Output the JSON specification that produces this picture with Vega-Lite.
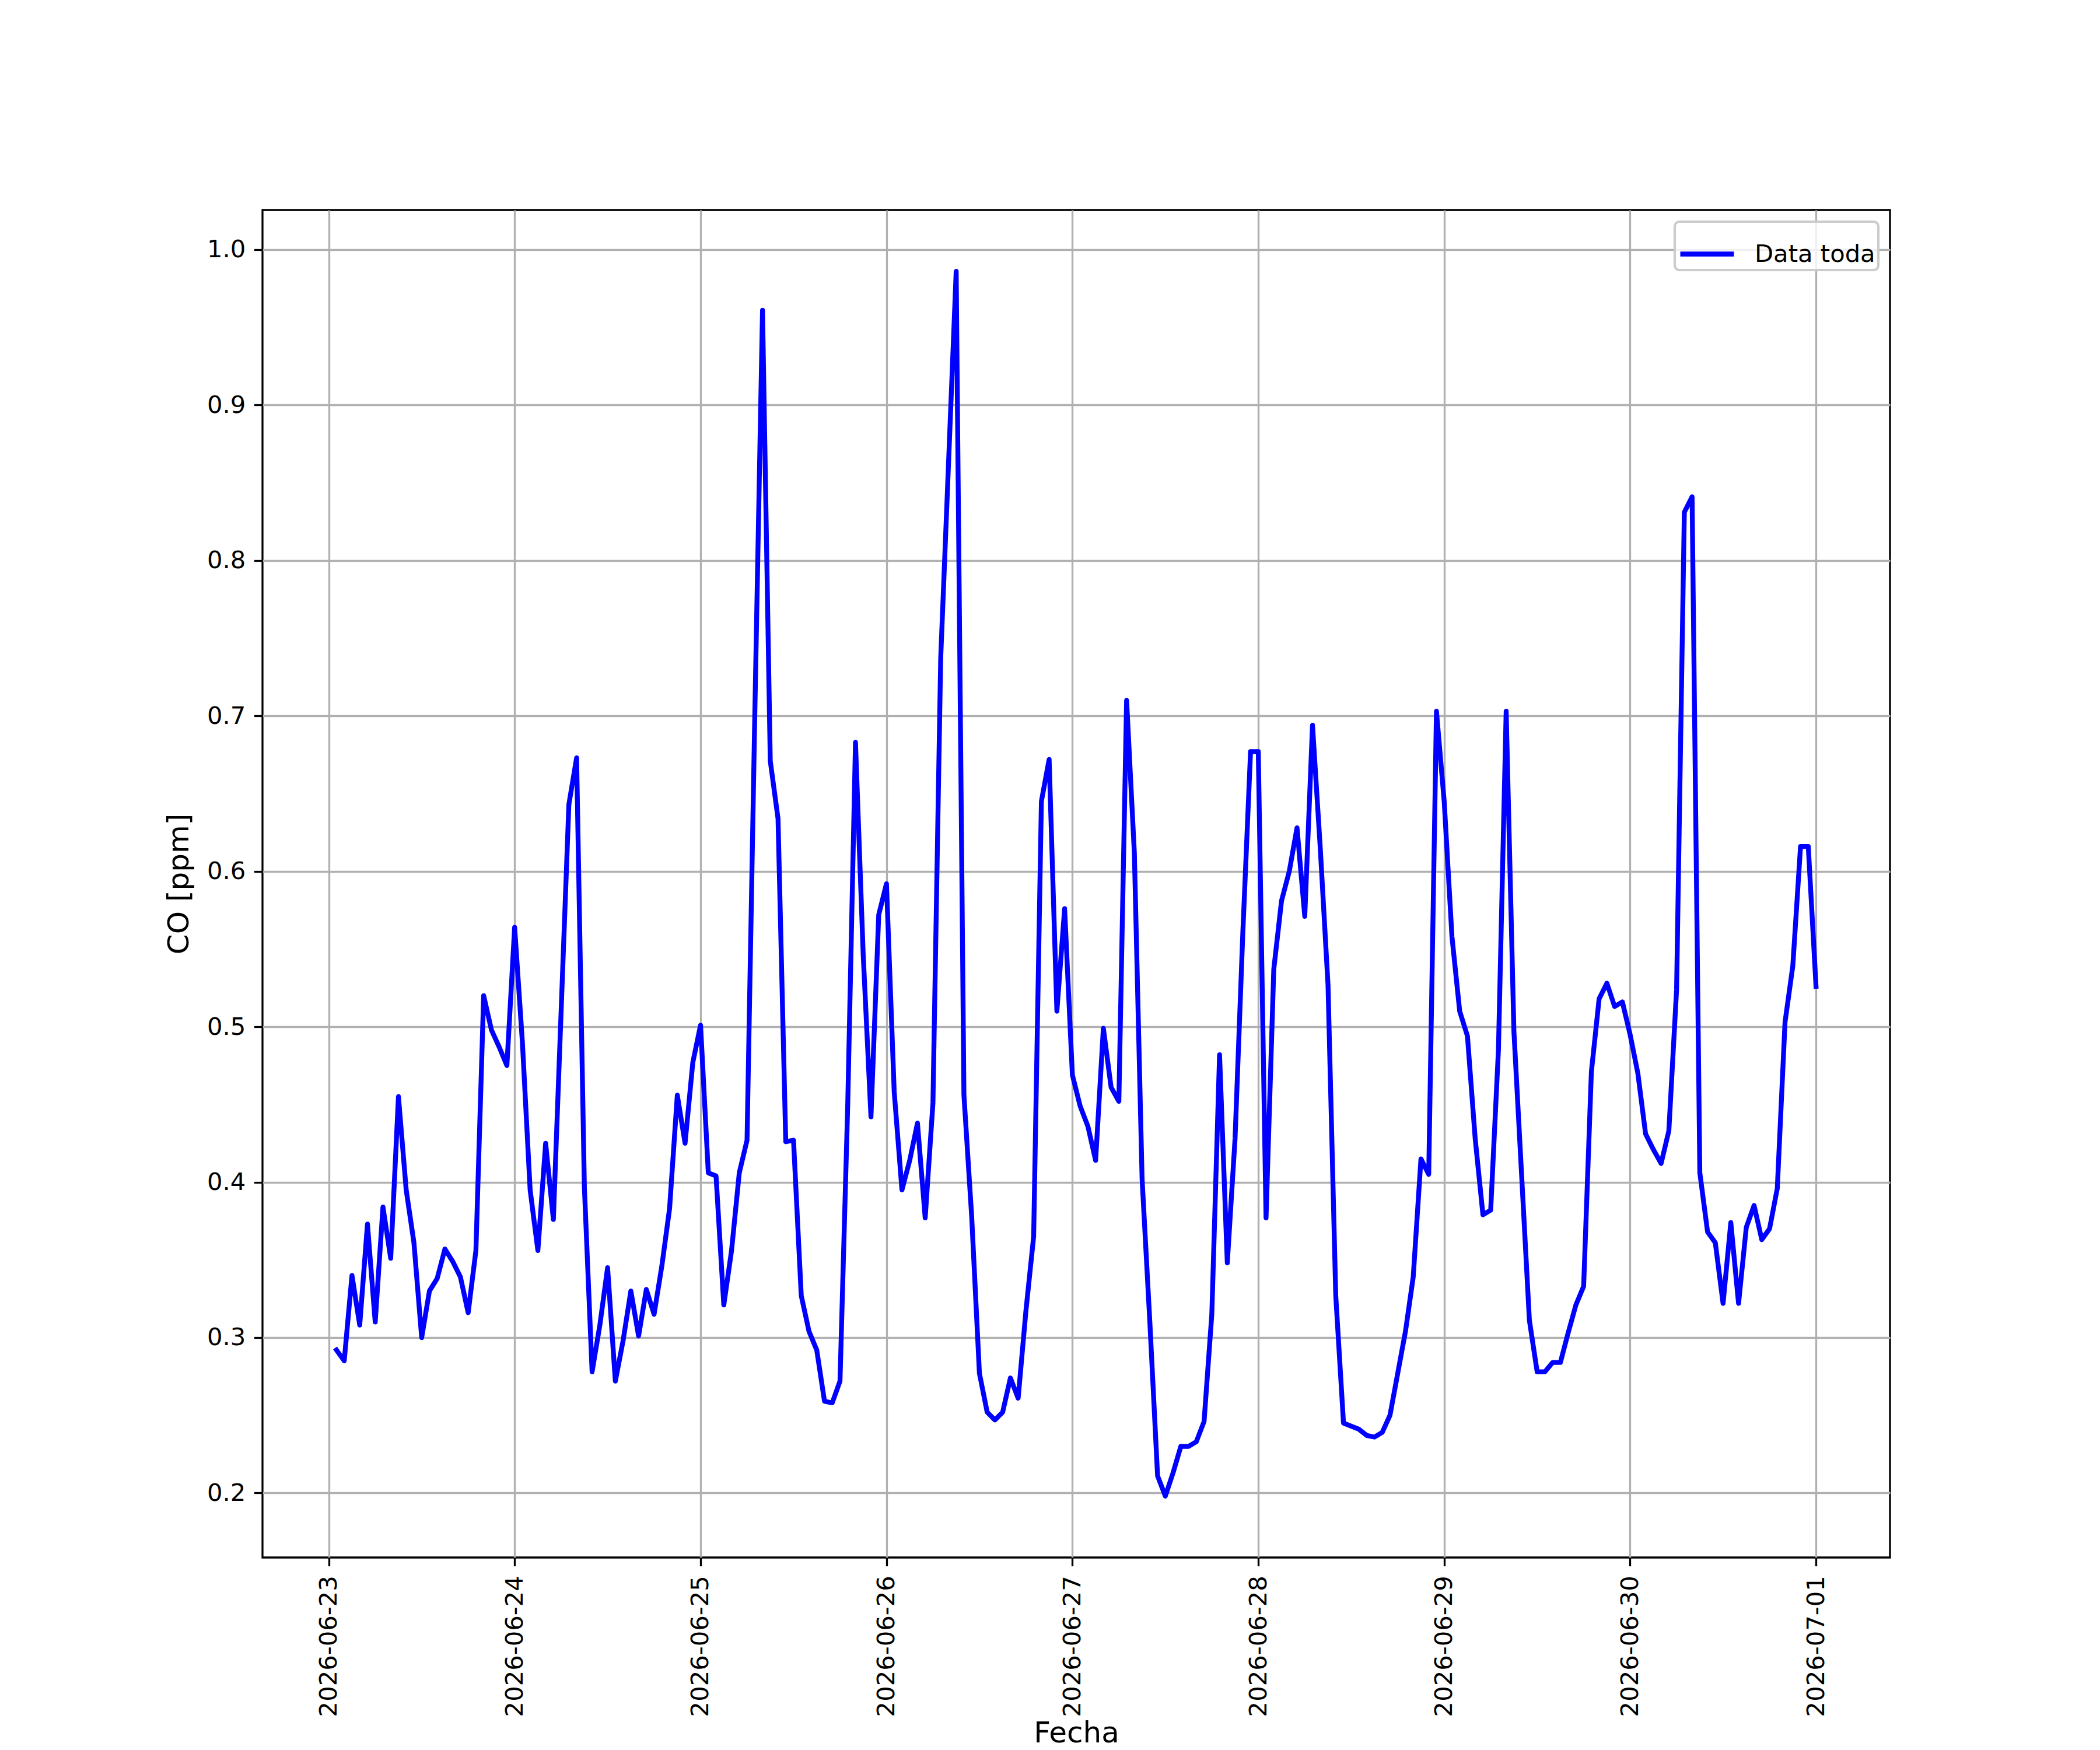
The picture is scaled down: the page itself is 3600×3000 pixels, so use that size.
{
  "$schema": "https://vega.github.io/schema/vega-lite/v6.json",
  "width": 2790,
  "height": 2310,
  "autosize": "none",
  "padding": {"left": 450, "top": 360, "right": 360, "bottom": 330},
  "background": "#ffffff",
  "data": {
    "values": [
      {"fecha": "2026-06-23T01:00:00", "co": 0.292},
      {"fecha": "2026-06-23T02:00:00", "co": 0.285},
      {"fecha": "2026-06-23T03:00:00", "co": 0.340},
      {"fecha": "2026-06-23T04:00:00", "co": 0.308},
      {"fecha": "2026-06-23T05:00:00", "co": 0.373},
      {"fecha": "2026-06-23T06:00:00", "co": 0.310},
      {"fecha": "2026-06-23T07:00:00", "co": 0.384},
      {"fecha": "2026-06-23T08:00:00", "co": 0.351},
      {"fecha": "2026-06-23T09:00:00", "co": 0.455},
      {"fecha": "2026-06-23T10:00:00", "co": 0.395},
      {"fecha": "2026-06-23T11:00:00", "co": 0.361},
      {"fecha": "2026-06-23T12:00:00", "co": 0.300},
      {"fecha": "2026-06-23T13:00:00", "co": 0.330},
      {"fecha": "2026-06-23T14:00:00", "co": 0.338},
      {"fecha": "2026-06-23T15:00:00", "co": 0.357},
      {"fecha": "2026-06-23T16:00:00", "co": 0.349},
      {"fecha": "2026-06-23T17:00:00", "co": 0.339},
      {"fecha": "2026-06-23T18:00:00", "co": 0.316},
      {"fecha": "2026-06-23T19:00:00", "co": 0.356},
      {"fecha": "2026-06-23T20:00:00", "co": 0.520},
      {"fecha": "2026-06-23T21:00:00", "co": 0.498},
      {"fecha": "2026-06-23T22:00:00", "co": 0.487},
      {"fecha": "2026-06-23T23:00:00", "co": 0.475},
      {"fecha": "2026-06-24T00:00:00", "co": 0.564},
      {"fecha": "2026-06-24T01:00:00", "co": 0.490},
      {"fecha": "2026-06-24T02:00:00", "co": 0.395},
      {"fecha": "2026-06-24T03:00:00", "co": 0.356},
      {"fecha": "2026-06-24T04:00:00", "co": 0.425},
      {"fecha": "2026-06-24T05:00:00", "co": 0.376},
      {"fecha": "2026-06-24T06:00:00", "co": 0.510},
      {"fecha": "2026-06-24T07:00:00", "co": 0.643},
      {"fecha": "2026-06-24T08:00:00", "co": 0.673},
      {"fecha": "2026-06-24T09:00:00", "co": 0.397},
      {"fecha": "2026-06-24T10:00:00", "co": 0.278},
      {"fecha": "2026-06-24T11:00:00", "co": 0.308},
      {"fecha": "2026-06-24T12:00:00", "co": 0.345},
      {"fecha": "2026-06-24T13:00:00", "co": 0.272},
      {"fecha": "2026-06-24T14:00:00", "co": 0.298},
      {"fecha": "2026-06-24T15:00:00", "co": 0.330},
      {"fecha": "2026-06-24T16:00:00", "co": 0.301},
      {"fecha": "2026-06-24T17:00:00", "co": 0.331},
      {"fecha": "2026-06-24T18:00:00", "co": 0.315},
      {"fecha": "2026-06-24T19:00:00", "co": 0.346},
      {"fecha": "2026-06-24T20:00:00", "co": 0.383},
      {"fecha": "2026-06-24T21:00:00", "co": 0.456},
      {"fecha": "2026-06-24T22:00:00", "co": 0.425},
      {"fecha": "2026-06-24T23:00:00", "co": 0.477},
      {"fecha": "2026-06-25T00:00:00", "co": 0.501},
      {"fecha": "2026-06-25T01:00:00", "co": 0.406},
      {"fecha": "2026-06-25T02:00:00", "co": 0.404},
      {"fecha": "2026-06-25T03:00:00", "co": 0.321},
      {"fecha": "2026-06-25T04:00:00", "co": 0.356},
      {"fecha": "2026-06-25T05:00:00", "co": 0.406},
      {"fecha": "2026-06-25T06:00:00", "co": 0.427},
      {"fecha": "2026-06-25T07:00:00", "co": 0.700},
      {"fecha": "2026-06-25T08:00:00", "co": 0.961},
      {"fecha": "2026-06-25T09:00:00", "co": 0.671},
      {"fecha": "2026-06-25T10:00:00", "co": 0.634},
      {"fecha": "2026-06-25T11:00:00", "co": 0.426},
      {"fecha": "2026-06-25T12:00:00", "co": 0.427},
      {"fecha": "2026-06-25T13:00:00", "co": 0.327},
      {"fecha": "2026-06-25T14:00:00", "co": 0.304},
      {"fecha": "2026-06-25T15:00:00", "co": 0.292},
      {"fecha": "2026-06-25T16:00:00", "co": 0.259},
      {"fecha": "2026-06-25T17:00:00", "co": 0.258},
      {"fecha": "2026-06-25T18:00:00", "co": 0.272},
      {"fecha": "2026-06-25T19:00:00", "co": 0.450},
      {"fecha": "2026-06-25T20:00:00", "co": 0.683},
      {"fecha": "2026-06-25T21:00:00", "co": 0.546},
      {"fecha": "2026-06-25T22:00:00", "co": 0.442},
      {"fecha": "2026-06-25T23:00:00", "co": 0.572},
      {"fecha": "2026-06-26T00:00:00", "co": 0.592},
      {"fecha": "2026-06-26T01:00:00", "co": 0.458},
      {"fecha": "2026-06-26T02:00:00", "co": 0.395},
      {"fecha": "2026-06-26T03:00:00", "co": 0.414},
      {"fecha": "2026-06-26T04:00:00", "co": 0.438},
      {"fecha": "2026-06-26T05:00:00", "co": 0.377},
      {"fecha": "2026-06-26T06:00:00", "co": 0.451},
      {"fecha": "2026-06-26T07:00:00", "co": 0.737},
      {"fecha": "2026-06-26T08:00:00", "co": 0.861},
      {"fecha": "2026-06-26T09:00:00", "co": 0.986},
      {"fecha": "2026-06-26T10:00:00", "co": 0.456},
      {"fecha": "2026-06-26T11:00:00", "co": 0.378},
      {"fecha": "2026-06-26T12:00:00", "co": 0.277},
      {"fecha": "2026-06-26T13:00:00", "co": 0.252},
      {"fecha": "2026-06-26T14:00:00", "co": 0.247},
      {"fecha": "2026-06-26T15:00:00", "co": 0.252},
      {"fecha": "2026-06-26T16:00:00", "co": 0.274},
      {"fecha": "2026-06-26T17:00:00", "co": 0.261},
      {"fecha": "2026-06-26T18:00:00", "co": 0.317},
      {"fecha": "2026-06-26T19:00:00", "co": 0.365},
      {"fecha": "2026-06-26T20:00:00", "co": 0.645},
      {"fecha": "2026-06-26T21:00:00", "co": 0.672},
      {"fecha": "2026-06-26T22:00:00", "co": 0.510},
      {"fecha": "2026-06-26T23:00:00", "co": 0.576},
      {"fecha": "2026-06-27T00:00:00", "co": 0.469},
      {"fecha": "2026-06-27T01:00:00", "co": 0.449},
      {"fecha": "2026-06-27T02:00:00", "co": 0.436},
      {"fecha": "2026-06-27T03:00:00", "co": 0.414},
      {"fecha": "2026-06-27T04:00:00", "co": 0.499},
      {"fecha": "2026-06-27T05:00:00", "co": 0.461},
      {"fecha": "2026-06-27T06:00:00", "co": 0.452},
      {"fecha": "2026-06-27T07:00:00", "co": 0.710},
      {"fecha": "2026-06-27T08:00:00", "co": 0.612},
      {"fecha": "2026-06-27T09:00:00", "co": 0.402},
      {"fecha": "2026-06-27T10:00:00", "co": 0.310},
      {"fecha": "2026-06-27T11:00:00", "co": 0.211},
      {"fecha": "2026-06-27T12:00:00", "co": 0.198},
      {"fecha": "2026-06-27T13:00:00", "co": 0.213},
      {"fecha": "2026-06-27T14:00:00", "co": 0.230},
      {"fecha": "2026-06-27T15:00:00", "co": 0.230},
      {"fecha": "2026-06-27T16:00:00", "co": 0.233},
      {"fecha": "2026-06-27T17:00:00", "co": 0.246},
      {"fecha": "2026-06-27T18:00:00", "co": 0.315},
      {"fecha": "2026-06-27T19:00:00", "co": 0.482},
      {"fecha": "2026-06-27T20:00:00", "co": 0.348},
      {"fecha": "2026-06-27T21:00:00", "co": 0.428},
      {"fecha": "2026-06-27T22:00:00", "co": 0.560},
      {"fecha": "2026-06-27T23:00:00", "co": 0.677},
      {"fecha": "2026-06-28T00:00:00", "co": 0.677},
      {"fecha": "2026-06-28T01:00:00", "co": 0.377},
      {"fecha": "2026-06-28T02:00:00", "co": 0.537},
      {"fecha": "2026-06-28T03:00:00", "co": 0.581},
      {"fecha": "2026-06-28T04:00:00", "co": 0.600},
      {"fecha": "2026-06-28T05:00:00", "co": 0.628},
      {"fecha": "2026-06-28T06:00:00", "co": 0.571},
      {"fecha": "2026-06-28T07:00:00", "co": 0.694},
      {"fecha": "2026-06-28T08:00:00", "co": 0.615},
      {"fecha": "2026-06-28T09:00:00", "co": 0.527},
      {"fecha": "2026-06-28T10:00:00", "co": 0.327},
      {"fecha": "2026-06-28T11:00:00", "co": 0.245},
      {"fecha": "2026-06-28T12:00:00", "co": 0.243},
      {"fecha": "2026-06-28T13:00:00", "co": 0.241},
      {"fecha": "2026-06-28T14:00:00", "co": 0.237},
      {"fecha": "2026-06-28T15:00:00", "co": 0.236},
      {"fecha": "2026-06-28T16:00:00", "co": 0.239},
      {"fecha": "2026-06-28T17:00:00", "co": 0.250},
      {"fecha": "2026-06-28T18:00:00", "co": 0.277},
      {"fecha": "2026-06-28T19:00:00", "co": 0.304},
      {"fecha": "2026-06-28T20:00:00", "co": 0.339},
      {"fecha": "2026-06-28T21:00:00", "co": 0.415},
      {"fecha": "2026-06-28T22:00:00", "co": 0.405},
      {"fecha": "2026-06-28T23:00:00", "co": 0.703},
      {"fecha": "2026-06-29T00:00:00", "co": 0.645},
      {"fecha": "2026-06-29T01:00:00", "co": 0.558},
      {"fecha": "2026-06-29T02:00:00", "co": 0.510},
      {"fecha": "2026-06-29T03:00:00", "co": 0.494},
      {"fecha": "2026-06-29T04:00:00", "co": 0.428},
      {"fecha": "2026-06-29T05:00:00", "co": 0.379},
      {"fecha": "2026-06-29T06:00:00", "co": 0.382},
      {"fecha": "2026-06-29T07:00:00", "co": 0.485},
      {"fecha": "2026-06-29T08:00:00", "co": 0.703},
      {"fecha": "2026-06-29T09:00:00", "co": 0.497},
      {"fecha": "2026-06-29T10:00:00", "co": 0.404},
      {"fecha": "2026-06-29T11:00:00", "co": 0.311},
      {"fecha": "2026-06-29T12:00:00", "co": 0.278},
      {"fecha": "2026-06-29T13:00:00", "co": 0.278},
      {"fecha": "2026-06-29T14:00:00", "co": 0.284},
      {"fecha": "2026-06-29T15:00:00", "co": 0.284},
      {"fecha": "2026-06-29T16:00:00", "co": 0.303},
      {"fecha": "2026-06-29T17:00:00", "co": 0.321},
      {"fecha": "2026-06-29T18:00:00", "co": 0.333},
      {"fecha": "2026-06-29T19:00:00", "co": 0.471},
      {"fecha": "2026-06-29T20:00:00", "co": 0.518},
      {"fecha": "2026-06-29T21:00:00", "co": 0.528},
      {"fecha": "2026-06-29T22:00:00", "co": 0.513},
      {"fecha": "2026-06-29T23:00:00", "co": 0.516},
      {"fecha": "2026-06-30T00:00:00", "co": 0.495},
      {"fecha": "2026-06-30T01:00:00", "co": 0.470},
      {"fecha": "2026-06-30T02:00:00", "co": 0.431},
      {"fecha": "2026-06-30T03:00:00", "co": 0.421},
      {"fecha": "2026-06-30T04:00:00", "co": 0.412},
      {"fecha": "2026-06-30T05:00:00", "co": 0.433},
      {"fecha": "2026-06-30T06:00:00", "co": 0.524},
      {"fecha": "2026-06-30T07:00:00", "co": 0.831},
      {"fecha": "2026-06-30T08:00:00", "co": 0.841},
      {"fecha": "2026-06-30T09:00:00", "co": 0.406},
      {"fecha": "2026-06-30T10:00:00", "co": 0.368},
      {"fecha": "2026-06-30T11:00:00", "co": 0.361},
      {"fecha": "2026-06-30T12:00:00", "co": 0.322},
      {"fecha": "2026-06-30T13:00:00", "co": 0.374},
      {"fecha": "2026-06-30T14:00:00", "co": 0.322},
      {"fecha": "2026-06-30T15:00:00", "co": 0.371},
      {"fecha": "2026-06-30T16:00:00", "co": 0.385},
      {"fecha": "2026-06-30T17:00:00", "co": 0.363},
      {"fecha": "2026-06-30T18:00:00", "co": 0.370},
      {"fecha": "2026-06-30T19:00:00", "co": 0.396},
      {"fecha": "2026-06-30T20:00:00", "co": 0.503},
      {"fecha": "2026-06-30T21:00:00", "co": 0.539},
      {"fecha": "2026-06-30T22:00:00", "co": 0.616},
      {"fecha": "2026-06-30T23:00:00", "co": 0.616},
      {"fecha": "2026-07-01T00:00:00", "co": 0.526}
    ]
  },
  "mark": {
    "type": "line",
    "strokeWidth": 8.33,
    "strokeJoin": "round",
    "strokeCap": "square"
  },
  "encoding": {
    "x": {
      "field": "fecha",
      "type": "temporal",
      "scale": {
        "domain": [
          {"year": 2026, "month": 6, "date": 22, "hours": 15, "minutes": 27},
          {"year": 2026, "month": 7, "date": 1, "hours": 9, "minutes": 33}
        ],
        "nice": false
      },
      "axis": {
        "title": "Fecha",
        "format": "%Y-%m-%d",
        "tickCount": {"interval": "day", "step": 1},
        "labelAngle": 270,
        "labelAlign": "right",
        "labelBaseline": "middle",
        "labelLimit": 1000,
        "labelPadding": 16,
        "titleY": 316,
        "titleBaseline": "alphabetic"
      }
    },
    "y": {
      "field": "co",
      "type": "quantitative",
      "scale": {"domain": [0.1585, 1.0255], "nice": false, "zero": false},
      "axis": {
        "title": "CO [ppm]",
        "values": [0.2, 0.3, 0.4, 0.5, 0.6, 0.7, 0.8, 0.9, 1.0],
        "format": ".1f",
        "labelPadding": 14.6,
        "titlePadding": 22
      }
    },
    "color": {
      "datum": "Data toda",
      "type": "nominal",
      "scale": {"range": ["#0000ff"]},
      "legend": {
        "title": null,
        "orient": "top-right",
        "offset": 20,
        "symbolType": "stroke",
        "symbolSize": 8464,
        "symbolStrokeWidth": 8.33,
        "labelOffset": 31,
        "labelLimit": 1000,
        "padding": 5,
        "fillColor": "rgba(255,255,255,0.8)",
        "strokeColor": "#cccccc",
        "cornerRadius": 8
      }
    }
  },
  "config": {
    "font": "DejaVu Sans",
    "view": {"stroke": "#000000", "strokeWidth": 3.3},
    "axis": {
      "domain": false,
      "grid": true,
      "gridColor": "#b0b0b0",
      "gridWidth": 3.3,
      "tickColor": "#000000",
      "tickWidth": 3.3,
      "tickSize": 14.6,
      "labelFont": "DejaVu Sans",
      "labelFontSize": 41.7,
      "labelColor": "#000000",
      "titleFont": "DejaVu Sans",
      "titleFontSize": 50,
      "titleFontWeight": "normal",
      "titleColor": "#000000"
    },
    "legend": {
      "labelFont": "DejaVu Sans",
      "labelFontSize": 41.7,
      "labelColor": "#000000",
      "strokeWidth": 4.2
    }
  }
}
